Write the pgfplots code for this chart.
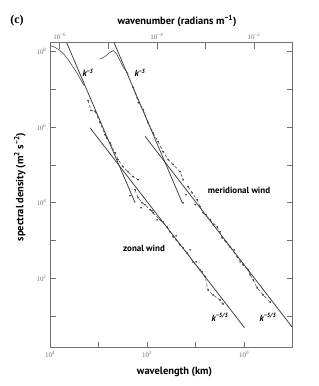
\documentclass[border=0pt]{standalone}
\usepackage{pgfplots}
\pgfplotsset{compat=1.18}
\usepackage{fontspec}
\setmainfont{Liberation Serif}
\setsansfont{PT Sans}
\definecolor{axgray}{HTML}{707070}
\definecolor{fitln}{HTML}{3A3A3A}
\definecolor{datc}{HTML}{404040}

\pgfplotstableread{
lam S
10000 1.44e8
7890 1.28e8
6223 1.06e8
5140 8.34e7
4256 6.14e7
3516 4.26e7
2911 2.95e7
2405 1.93e7
1991 1.26e7
}\zonalcurve

\pgfplotstableread{
lam S
1645 5.04e6
1428 2.74e6
1180 2.62e6
931 1.31e6
734 6.32e5
678 5.18e5
579 3.88e5
457 2.11e5
396 1.38e5
313 9.0e4
247 6.62e4
194 4.89e4
153 4.07e4
}\zonalA

\pgfplotstableread{
lam S
177 2.21e4
153 1.36e4
127 1.0e4
110 8.85e3
86.7 6.53e3
75.2 5.44e3
53.9 3.55e3
38.7 2.31e3
29.1 1.26e3
20.9 771
15.0 473
11.3 273
8.08 168
7.35 149
6.37 110
5.52 49.5
4.36 36.6
3.13 26.9
2.71 21.1
}\zonalB

\pgfplotstableread{
lam S
224 1.53e4
133 7.38e3
78.9 6.14e3
62.2 3.55e3
46.8 3.14e3
33.6 1.71e3
25.2 1.34e3
18.1 643
13.0 569
9.77 273
}\zonalX

\pgfplotstableread{
lam S
931 6.25e7
734 7.38e7
579 9.42e7
495 1.05e8
422 8.49e7
361 5.68e7
308 3.77e7
243 2.5e7
}\meridcurve

\pgfplotstableread{
lam S
194 1.11e7
151 4.46e6
121 2.91e6
95.3 1.31e6
75.2 7.14e5
59.3 4.13e5
46.8 2.24e5
36.9 1.38e5
29.1 1.02e5
20.9 6.62e4
18.1 4.07e4
}\meridA

\pgfplotstableread{
lam S
14.3 2.65e4
11.8 1.84e4
9.31 1.2e4
8.08 7.83e3
7.0 5.44e3
5.02 3.55e3
3.6 2.31e3
2.84 1.18e3
1.95 682
1.39 371
1.05 228
0.828 168
0.752 124
0.652 91.2
0.539 56
0.406 36.6
0.291 23.8
}\meridB

\pgfplotstableread{
lam S
18.1 1.0e4
15.7 1.63e4
10.2 8.85e3
6.08 4.81e3
4.36 2.61e3
3.13 1.71e3
2.35 927
1.61 569
1.21 273
}\meridX

\begin{document}
\begin{tikzpicture}
\useasboundingbox (-50bp,-38.3bp) rectangle (269bp,347.7bp);
\begin{axis}[
  at={(0,0)}, anchor=south west, scale only axis,
  width=242.7bp, height=305bp,
  xmode=log, ymode=log, x dir=reverse,
  xmin=0.1, xmax=1e4, ymin=1.48, ymax=1.7e8,
  axis line style={axgray, line width=0.7pt},
  tick style={axgray, line width=0.6pt},
  major tick length=6bp, minor tick length=0pt, tick align=inside,
  xtick pos=bottom, ytick pos=both, yticklabel pos=left,
  xtick={1e4,1e3,100,10,1},
  xticklabels={10\textsuperscript{4},,10\textsuperscript{2},,10\textsuperscript{0}},
  ytick={10,100,1000,1e4,1e5,1e6,1e7,1e8},
  yticklabels={,10\textsuperscript{2},,10\textsuperscript{4},,10\textsuperscript{6},,10\textsuperscript{8}},
  ticklabel style={font=\fontsize{7}{8}\selectfont, text=axgray},
  clip=true,
]
% fitted power laws
\addplot[fitln, line width=0.75pt] coordinates {(4539,1.7e8) (176.6,1.0e4)};
\addplot[fitln, line width=0.75pt] coordinates {(1496,9.55e5) (0.986,5.01)};
\addplot[fitln, line width=0.75pt] coordinates {(479,1.7e8) (18.7,9.77e3)};
\addplot[fitln, line width=0.75pt] coordinates {(109.9,5.70e5) (0.1038,5.28)};
% zonal data
\addplot[datc, line width=0.55pt] table {\zonalcurve};
\addplot[datc, line width=0.5pt, densely dashed, mark=*, mark size=0.6pt] table {\zonalA};
\addplot[datc, line width=0.5pt, densely dashed, mark=*, mark size=0.6pt] table {\zonalB};
\addplot[datc, only marks, mark=*, mark size=0.6pt] table {\zonalX};
% meridional data
\addplot[datc, line width=0.55pt] table {\meridcurve};
\addplot[datc, line width=0.5pt, densely dashed, mark=*, mark size=0.6pt] table {\meridA};
\addplot[datc, line width=0.5pt, densely dashed, mark=*, mark size=0.6pt] table {\meridB};
\addplot[datc, only marks, mark=*, mark size=0.6pt] table {\meridX};
\end{axis}
\begin{axis}[
  at={(0,0)}, anchor=south west, scale only axis,
  width=242.7bp, height=305bp,
  xmode=log, xmin=6.2832e-7, xmax=0.062832,
  ymin=0, ymax=1,
  axis x line*=top, hide y axis,
  axis line style={axgray, line width=0.7pt},
  tick style={axgray, line width=0.6pt},
  major tick length=6bp, minor tick length=0pt, tick align=inside,
  xtick={1e-6,1e-5,1e-4,1e-3,1e-2},
  xticklabels={10\textsuperscript{−6},,10\textsuperscript{−4},,10\textsuperscript{−2}},
  ticklabel style={font=\fontsize{7}{8}\selectfont, text=axgray},
]
\end{axis}
\node[font=\bfseries\fontsize{12}{13}\selectfont] at (-33bp,326.7bp) {(c)};
\node[font=\sffamily\bfseries\fontsize{10.5}{11}\selectfont] at (127bp,327bp) {wavenumber (radians m\textsuperscript{−1})};
\node[font=\sffamily\bfseries\fontsize{10.5}{11}\selectfont] at (124.5bp,-24.3bp) {wavelength (km)};
\node[font=\sffamily\bfseries\fontsize{10.5}{11}\selectfont, rotate=90] at (-30bp,160.7bp) {spectral density (m\textsuperscript{2} s\textsuperscript{−2})};
\node[font=\sffamily\bfseries\itshape\fontsize{9}{10}\selectfont] at (38bp,274.7bp) {k\textsuperscript{−3}};
\node[font=\sffamily\bfseries\itshape\fontsize{9}{10}\selectfont] at (90bp,274.7bp) {k\textsuperscript{−3}};
\node[font=\sffamily\bfseries\itshape\fontsize{9}{10}\selectfont] at (170bp,30.7bp) {k\textsuperscript{−5/3}};
\node[font=\sffamily\bfseries\itshape\fontsize{9}{10}\selectfont] at (218bp,30.7bp) {k\textsuperscript{−5/3}};
\node[font=\sffamily\bfseries\fontsize{9}{10}\selectfont] at (189bp,157.7bp) {meridional wind};
\node[font=\sffamily\bfseries\fontsize{9}{10}\selectfont] at (94bp,99.4bp) {zonal wind};
\end{tikzpicture}
\end{document}
